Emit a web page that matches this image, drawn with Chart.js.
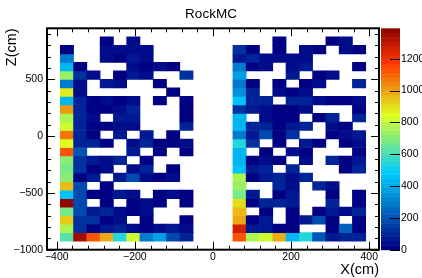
<!DOCTYPE html>
<html><head><meta charset="utf-8">
<script src="https://cdn.jsdelivr.net/npm/chart.js@4/dist/chart.umd.min.js"></script>
<style>html,body{margin:0;padding:0;background:#fff;}#wrap{width:422px;height:278px;}</style>
</head><body><div id="wrap"><canvas id="c" width="422" height="278"></canvas></div>
<script>
// ---------- DATA ----------
const chartTitle = 'RockMC';
const xTitle = 'X(cm)';
const zTitle = 'Z(cm)';
const xRange = [-425, 425];
const zRange = [-1000, 950];
const countMax = 1391;
const xTicks = [-400, -200, 0, 200, 400];
const zTicks = [-1000, -500, 0, 500];
const countTicks = [0, 200, 400, 600, 800, 1000, 1200];
const xMinorStep = 40;
const zMinorStep = 100;
// bin centres (cm)
const xCenters = [-374, -340, -306, -272, -238, -204, -170, -136, -102, -68,
                   68, 102, 136, 170, 204, 238, 272, 306, 340, 374];
const xBinWidth = 34;
const zCenters = [837.5, 762.5, 687.5, 612.5, 537.5, 462.5, 387.5, 312.5, 237.5, 162.5, 87.5, 12.5,
                  -62.5, -137.5, -212.5, -287.5, -362.5, -437.5, -512.5, -587.5, -662.5, -737.5, -812.5, -887.5];
const zBinWidth = 75;
// entries per bin, one row per zCenter (top to bottom), one column per xCenter
const counts = [
  [0,0,0,25,0,40,0,0,0,0,        0,0,0,25,0,0,0,25,30,0],
  [25,0,0,40,30,40,30,0,0,0,     130,25,0,25,0,30,25,0,30,25],
  [300,0,0,30,25,60,30,0,0,0,    60,90,40,40,30,30,0,0,0,0],
  [440,25,0,0,0,30,25,30,25,0,   280,25,30,0,30,60,0,0,0,25],
  [729,130,40,0,25,60,30,0,0,130, 370,0,0,0,60,0,25,30,0,0],
  [300,40,0,60,40,0,0,25,0,0,    280,25,0,25,0,25,30,0,0,90],
  [887,30,0,0,0,0,0,0,25,0,      360,110,0,30,25,30,0,0,0,0],
  [440,110,25,40,25,30,0,25,0,25, 470,110,110,0,110,110,30,25,25,30],
  [1028,90,25,25,40,110,0,0,0,25, 130,60,30,25,25,30,0,0,0,25],
  [774,90,30,0,60,60,0,0,0,25,   440,0,30,25,25,0,25,90,0,90],
  [819,110,25,25,30,40,0,0,0,90, 440,90,90,25,60,110,0,30,25,0],
  [1060,110,25,0,60,0,60,0,25,0, 300,60,170,25,130,0,0,25,30,60],
  [840,90,110,25,0,30,90,25,25,30, 548,130,0,25,0,60,25,0,25,30],
  [1123,220,0,0,0,60,0,25,0,25,  440,0,25,0,30,25,0,0,0,25],
  [699,130,60,30,110,0,25,0,0,0, 440,25,30,25,0,30,0,90,25,60],
  [690,130,25,30,0,30,110,0,25,0, 460,60,90,0,110,0,0,0,25,90],
  [720,25,60,0,60,190,30,25,30,0, 774,25,60,110,30,90,0,0,0,0],
  [951,170,0,25,0,0,0,0,0,0,     740,0,0,110,30,0,110,30,0,0],
  [450,170,25,25,60,30,0,25,30,25, 680,60,0,25,60,0,0,25,0,25],
  [1391,170,0,25,0,25,30,25,0,25, 900,25,90,90,60,0,0,110,0,25],
  [680,170,60,90,30,25,30,0,0,0, 951,0,25,0,25,0,25,60,30,110],
  [919,130,130,25,30,0,25,0,0,25, 999,25,60,0,25,60,170,25,0,25],
  [760,130,25,60,110,30,25,30,60,40, 1253,60,60,25,25,0,0,25,240,25],
  [627,1340,1139,974,548,819,280,370,170,110, 1123,774,819,974,440,548,220,60,90,90]
];

// ---------- STYLE ----------
const FONT = "'Liberation Sans', Arial, Helvetica, sans-serif";
const nColors = 50;
function buildPalette(n) {
  const st = [0.00, 0.34, 0.61, 0.84, 1.00];
  const r = [0.00, 0.00, 0.87, 1.00, 0.51];
  const g = [0.00, 0.81, 1.00, 0.20, 0.00];
  const b = [0.51, 1.00, 0.12, 0.00, 0.00];
  const out = [];
  for (let k = 1; k < st.length; k++) {
    const nc = Math.floor(n * st[k]) - Math.floor(n * st[k - 1]);
    for (let c = 0; c < nc; c++) {
      const f = c / nc;
      const R = Math.round(255 * (r[k - 1] + f * (r[k] - r[k - 1])));
      const G = Math.round(255 * (g[k - 1] + f * (g[k] - g[k - 1])));
      const B = Math.round(255 * (b[k - 1] + f * (b[k] - b[k - 1])));
      out.push(`rgb(${R},${G},${B})`);
    }
  }
  return out;
}
const palette = buildPalette(nColors);
function colorFor(v) {
  let i = Math.floor(0.01 + v / countMax * nColors);
  if (i > nColors - 1) i = nColors - 1;
  if (i < 0) i = 0;
  return palette[i];
}
const fmt = v => (v < 0 ? '\u2212' + Math.abs(v) : String(v));

const datasets = zCenters.map((zc, r) => ({
  data: xCenters.map((xc, i) => ({ x: xc, y: [zc - zBinWidth / 2, zc + zBinWidth / 2], v: counts[r][i] }))
                .filter(d => d.v > 0),
  backgroundColor: ctx => colorFor(ctx.raw ? ctx.raw.v : 0),
  borderWidth: 0,
  barPercentage: 1,
  categoryPercentage: 1,
  grouped: false,
  xAxisID: 'x',
  yAxisID: 'y'
}));

function line(ctx, x0, y0, x1, y1) { ctx.beginPath(); ctx.moveTo(x0, y0); ctx.lineTo(x1, y1); ctx.stroke(); }
function range(a, b, s) { const o = []; for (let v = a; v <= b + 1e-9; v += s) o.push(v); return o; }

const frameTicks = {
  id: 'frameTicks',
  afterDatasetsDraw(chart) {
    const { ctx, chartArea: a, scales } = chart;
    const x = scales.x, y = scales.y;
    ctx.save();
    ctx.strokeStyle = '#000';
    ctx.lineWidth = 1;
    const xMin = range(Math.ceil(xRange[0] / xMinorStep) * xMinorStep, xRange[1], xMinorStep);
    xMin.forEach(v => {
      const p = Math.round(x.getPixelForValue(v)) + 0.5;
      const len = xTicks.includes(v) ? 8 : 4;
      line(ctx, p, a.bottom, p, a.bottom - len);
      line(ctx, p, a.top, p, a.top + len);
    });
    const zMin = range(Math.ceil(zRange[0] / zMinorStep) * zMinorStep, zRange[1], zMinorStep);
    zMin.forEach(v => {
      const p = Math.round(y.getPixelForValue(v)) + 0.5;
      const len = zTicks.includes(v) ? 8 : 4;
      line(ctx, a.left, p, a.left + len, p);
      line(ctx, a.right, p, a.right - len, p);
    });
    ctx.lineWidth = 2;
    ctx.strokeRect(a.left, a.top, a.right - a.left, a.bottom - a.top);
    ctx.restore();
  },
  afterDraw(chart) {
    const { ctx, chartArea: a, scales } = chart;
    const c = scales.c;
    const x0 = a.right + 2, x1 = a.right + 21;
    ctx.save();
    for (let i = 0; i < nColors; i++) {
      const p0 = c.getPixelForValue(i * countMax / nColors);
      const p1 = c.getPixelForValue((i + 1) * countMax / nColors);
      ctx.fillStyle = palette[i];
      ctx.fillRect(x0, p1, x1 - x0, p0 - p1 + 0.5);
    }
    ctx.strokeStyle = '#000';
    ctx.lineWidth = 1;
    countTicks.forEach(v => {
      const p = Math.round(c.getPixelForValue(v)) + 0.5;
      line(ctx, x1 - 10, p, x1, p);
    });
    ctx.restore();
  }
};

new Chart(document.getElementById('c'), {
  type: 'bar',
  data: { datasets },
  options: {
    responsive: false,
    animation: false,
    devicePixelRatio: 1,
    layout: { padding: 0 },
    plugins: {
      legend: { display: false },
      tooltip: { enabled: false },
      title: { display: true, text: chartTitle, color: '#000', font: { family: FONT, size: 13.5, weight: 'normal', lineHeight: 1.2 }, padding: { top: 2.6, bottom: 6.2 } }
    },
    scales: {
      x: {
        type: 'linear', position: 'bottom', min: xRange[0], max: xRange[1], offset: false,
        afterBuildTicks: s => { s.ticks = xTicks.map(v => ({ value: v })); },
        afterFit: s => { s.height = 27; },
        grid: { display: false, drawTicks: false, offset: false }, border: { display: false },
        ticks: { autoSkip: false, maxRotation: 0, padding: 1, color: '#000', font: { family: FONT, size: 10.5 }, callback: fmt },
        title: { display: true, text: xTitle, align: 'end', color: '#000', font: { family: FONT, size: 14.5, lineHeight: 1 }, padding: { top: 0, bottom: -1 } }
      },
      y: {
        type: 'linear', position: 'left', min: zRange[0], max: zRange[1],
        afterBuildTicks: s => { s.ticks = zTicks.map(v => ({ value: v })); },
        afterFit: s => { s.width = 47; },
        grid: { display: false, drawTicks: false }, border: { display: false },
        ticks: { autoSkip: false, padding: 4, color: '#000', font: { family: FONT, size: 10.5 }, callback: fmt },
        title: { display: true, text: zTitle, align: 'end', color: '#000', font: { family: FONT, size: 14.5, lineHeight: 1 }, padding: { top: 4.75, bottom: 0 } }
      },
      c: {
        type: 'linear', position: 'right', min: 0, max: countMax,
        afterBuildTicks: s => { s.ticks = countTicks.map(v => ({ value: v })); },
        afterFit: s => { s.width = 43; },
        grid: { display: false, drawTicks: false }, border: { display: false },
        ticks: { autoSkip: false, padding: 22, color: '#000', font: { family: FONT, size: 10.5 }, callback: fmt }
      }
    }
  },
  plugins: [frameTicks]
});
</script></body></html>
